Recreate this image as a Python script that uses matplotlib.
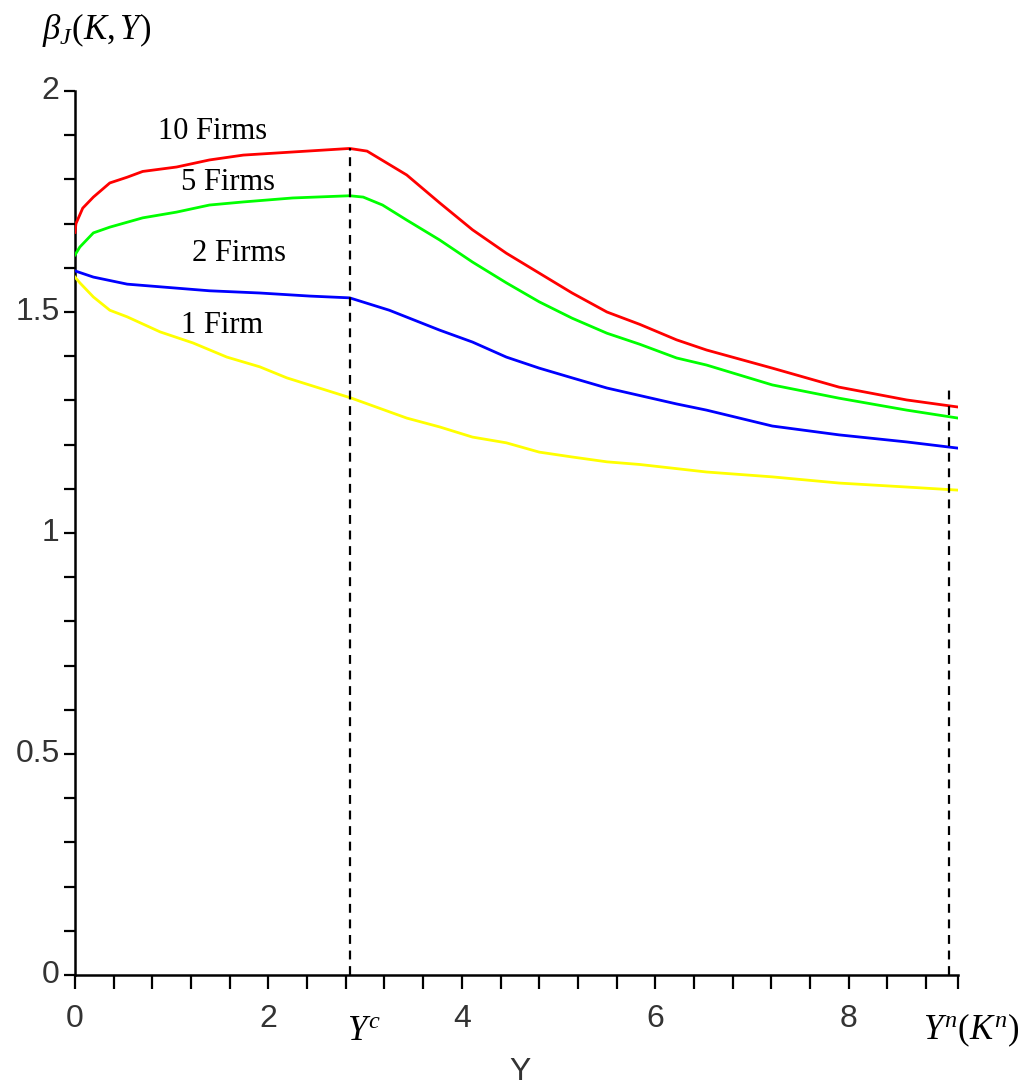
import matplotlib
matplotlib.use("Agg")
import matplotlib.pyplot as plt
import numpy as np

# values
red_x = [0, 0.01, 0.08, 0.19, 0.36, 0.54, 0.70, 1.05, 1.39, 1.74, 2.25, 2.84, 3.02,
         3.43, 3.77, 4.11, 4.46, 4.80, 5.14, 5.50, 5.84, 6.22, 6.53, 7.21, 7.90, 8.60, 9.13]
red_y = [1.68, 1.70, 1.735, 1.76, 1.792, 1.805, 1.818, 1.828, 1.844, 1.855, 1.862, 1.870, 1.864,
         1.81, 1.747, 1.686, 1.633, 1.588, 1.543, 1.50, 1.472, 1.437, 1.414, 1.373, 1.330, 1.301, 1.285]

green_x = [0, 0.05, 0.19, 0.36, 0.70, 1.05, 1.39, 1.74, 2.25, 2.84, 2.98, 3.18, 3.43,
           3.77, 4.11, 4.46, 4.80, 5.14, 5.50, 5.84, 6.22, 6.53, 7.21, 7.90, 8.60, 9.13]
green_y = [1.629, 1.647, 1.679, 1.692, 1.713, 1.726, 1.742, 1.749, 1.758, 1.763, 1.760, 1.742, 1.708,
           1.663, 1.613, 1.566, 1.523, 1.486, 1.452, 1.427, 1.396, 1.380, 1.335, 1.305, 1.278, 1.26]

blue_x = [0, 0.19, 0.54, 0.88, 1.39, 1.91, 2.43, 2.84, 3.25, 3.77, 4.11, 4.46, 4.80,
          5.14, 5.50, 5.84, 6.22, 6.53, 7.21, 7.90, 8.60, 9.13]
blue_y = [1.593, 1.579, 1.563, 1.557, 1.548, 1.543, 1.536, 1.532, 1.504, 1.459, 1.432, 1.398, 1.373,
          1.351, 1.328, 1.311, 1.292, 1.278, 1.242, 1.222, 1.206, 1.192]

yellow_x = [0, 0.05, 0.19, 0.36, 0.54, 0.88, 1.22, 1.57, 1.91, 2.19, 2.86, 3.43, 3.77,
            4.11, 4.46, 4.80, 5.14, 5.50, 5.84, 6.53, 7.21, 7.90, 8.60, 9.13]
yellow_y = [1.579, 1.566, 1.534, 1.504, 1.489, 1.455, 1.430, 1.398, 1.376, 1.351, 1.305, 1.260, 1.240,
            1.217, 1.204, 1.183, 1.172, 1.161, 1.155, 1.138, 1.127, 1.113, 1.104, 1.097]

labels = ["10 Firms", "5 Firms", "2 Firms", "1 Firm"]
label_pos = [(1.42, 1.909), (1.58, 1.792), (1.70, 1.632), (1.52, 1.469)]

y_c = 2.84
y_c_top = 1.870
y_n = 9.04
y_n_top = 1.323

x_ticks = [0, 2, 4, 6, 8]
y_ticks = [0, 0.5, 1, 1.5, 2]
y_tick_labels = ["0", "0.5", "1", "1.5", "2"]

plt.rcParams['mathtext.fontset'] = 'custom'
plt.rcParams['mathtext.rm'] = 'Liberation Serif'
plt.rcParams['mathtext.it'] = 'Liberation Serif:italic'

fig = plt.figure(figsize=(10.23, 10.89), dpi=100)
ax = fig.add_axes([75/1023, 114/1089, 883/1023, 884/1089])

lw = 2.0
ax.plot(red_x, red_y, color="#ff0000", lw=lw, zorder=3)
ax.plot(green_x, green_y, color="#00ff00", lw=lw, zorder=3)
ax.plot(blue_x, blue_y, color="#0000ff", lw=lw, zorder=3)
ax.plot(yellow_x, yellow_y, color="#ffff00", lw=lw, zorder=3)

# dashed markers at Y^c and Y^n
ax.plot([y_c, y_c], [0, y_c_top], color="black", lw=1.6, ls=(0, (4, 3)), zorder=4)
ax.plot([y_n, y_n], [0, y_n_top], color="black", lw=1.6, ls=(0, (4, 3)), zorder=4)

for txt, (px, py) in zip(labels, label_pos):
    ax.text(px, py, txt, fontsize=22, family="Liberation Serif", ha="center", va="center")

ax.set_xlim(0, 9.13)
ax.set_ylim(0, 2)
ax.spines['right'].set_color('none')
ax.spines['top'].set_color('none')
ax.spines['left'].set_linewidth(1.8)
ax.spines['bottom'].set_linewidth(1.8)

ax.set_xticks(list(np.arange(0, 9.2, 0.4)) + [9.13])
ax.set_xticklabels([])
ax.set_yticks(np.arange(0, 2.01, 0.1))
ax.set_yticklabels([])
ax.tick_params(axis='x', direction='out', length=10, width=1.6)
ax.tick_params(axis='y', direction='out', length=8, width=1.6)

tick_color = "#333333"
for xv in x_ticks:
    ax.text(xv, -0.1, str(xv), fontsize=23, family="Liberation Sans", color=tick_color,
            ha="center", va="center")
for yv, lab in zip(y_ticks, y_tick_labels):
    ax.text(-0.16, yv, lab, fontsize=23, family="Liberation Sans", color=tick_color,
            ha="right", va="center")

ax.text(y_c + 0.15, -0.125, r"$Y^c$", fontsize=25, ha="center", va="center")
ax.text(9.27, -0.125, r"$Y^n\mathrm{(}K^n\mathrm{)}$", fontsize=25, ha="center", va="center")
ax.text(4.6, -0.22, "Y", fontsize=23, family="Liberation Sans", color=tick_color,
        ha="center", va="center")

fig.text(42/1023, 1 - 30/1089, r"$\beta_J\mathrm{(}K,Y\mathrm{)}$", fontsize=25,
         ha="left", va="center")

fig.savefig("out.png", dpi=100)
